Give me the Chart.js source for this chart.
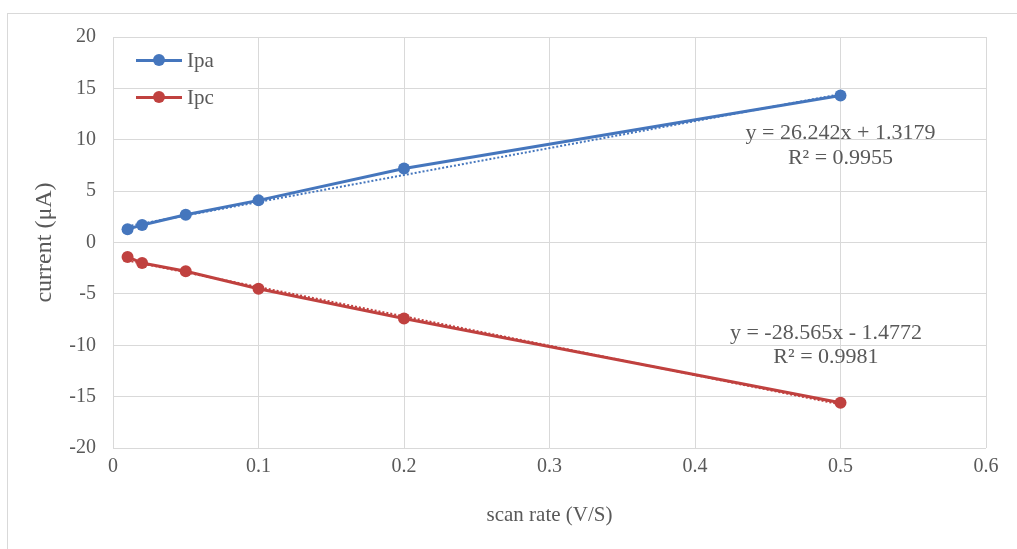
<!DOCTYPE html>
<html>
<head>
<meta charset="utf-8">
<script src="https://cdn.jsdelivr.net/npm/chart.js@4/dist/chart.umd.min.js"></script>
<style>
  html, body { margin: 0; padding: 0; background: #fff; }
  #wrap { position: relative; width: 1017px; height: 549px; overflow: hidden; }
  #frame { position: absolute; left: 7px; top: 13px; width: 1100px; height: 600px; border: 1px solid #d9d9d9; }
  canvas { position: absolute; left: 0; top: 0; }
  .leg { position: absolute; left: 136px; height: 24px; font: 21px "Liberation Serif", serif; color: #595959; }
  .leg .ln { position: absolute; left: 0; top: 11px; width: 46px; height: 3px; }
  .leg .dot { position: absolute; left: 17px; top: 6px; width: 12px; height: 12px; border-radius: 50%; }
  .leg .tx { position: absolute; left: 51px; top: 0; line-height: 24px; white-space: nowrap; }
</style>
</head>
<body>
<div id="wrap">
  <div id="frame"></div>
  <canvas id="chart" width="1017" height="549"></canvas>
  <div id="legend"></div>
</div>
<script>
// datos
const scanRate = [0.01, 0.02, 0.05, 0.1, 0.2, 0.5];
const ipa = [1.3, 1.7, 2.7, 4.1, 7.2, 14.3];
const ipc = [-1.4, -2.0, -2.8, -4.5, -7.4, -15.6];

// líneas de tendencia (extremos)
const trendX = [0.01, 0.5];
const ipaTrend = [1.58, 14.44];
const ipcTrend = [-1.76, -15.76];

const seriesNames = ['Ipa', 'Ipc'];
const colors = ['#4576BD', '#C0413F'];
const eqTexts = [
  ['y = 26.242x + 1.3179', 'R² = 0.9955'],
  ['y = -28.565x - 1.4772', 'R² = 0.9981'],
];
const eqPos = [[0.5, 10.6, 8.2], [0.49, -8.85, -11.2]];

const xTicks = [0, 0.1, 0.2, 0.3, 0.4, 0.5, 0.6];
const yTicks = [-20, -15, -10, -5, 0, 5, 10, 15, 20];

const font = '"Liberation Serif", serif';
const textColor = '#595959';

const pts = (xs, ys) => xs.map((x, i) => ({ x, y: ys[i] }));

// leyenda en html
const legend = document.getElementById('legend');
seriesNames.forEach((name, i) => {
  const d = document.createElement('div');
  d.className = 'leg';
  d.style.top = (48 + i * 37) + 'px';
  d.innerHTML = `<span class="ln" style="background:${colors[i]}"></span><span class="dot" style="background:${colors[i]}"></span><span class="tx">${name}</span>`;
  legend.appendChild(d);
});

// etiquetas de ecuación
const eqLabels = {
  id: 'eqLabels',
  afterDatasetsDraw(chart) {
    const { ctx, scales } = chart;
    ctx.save();
    ctx.font = '22px ' + font;
    ctx.fillStyle = textColor;
    ctx.textAlign = 'center';
    ctx.textBaseline = 'middle';
    eqPos.forEach((p, i) => {
      const x = scales.x.getPixelForValue(p[0]);
      ctx.fillText(eqTexts[i][0], x, scales.y.getPixelForValue(p[1]));
      ctx.fillText(eqTexts[i][1], x, scales.y.getPixelForValue(p[2]));
    });
    ctx.restore();
  }
};

const ctx = document.getElementById('chart').getContext('2d');
new Chart(ctx, {
  type: 'scatter',
  data: {
    datasets: [
      {
        label: 'Ipa trend',
        data: pts(trendX, ipaTrend),
        showLine: true,
        borderColor: colors[0],
        borderWidth: 2,
        borderDash: [2, 2],
        pointRadius: 0,
      },
      {
        label: 'Ipc trend',
        data: pts(trendX, ipcTrend),
        showLine: true,
        borderColor: colors[1],
        borderWidth: 2,
        borderDash: [2, 2],
        pointRadius: 0,
      },
      {
        label: seriesNames[0],
        data: pts(scanRate, ipa),
        showLine: true,
        borderColor: colors[0],
        backgroundColor: colors[0],
        borderWidth: 3,
        pointRadius: 6,
        pointBorderWidth: 0,
      },
      {
        label: seriesNames[1],
        data: pts(scanRate, ipc),
        showLine: true,
        borderColor: colors[1],
        backgroundColor: colors[1],
        borderWidth: 3,
        pointRadius: 6,
        pointBorderWidth: 0,
      },
    ],
  },
  options: {
    responsive: false,
    animation: false,
    layout: { padding: { top: 37, right: 31, bottom: 0, left: 0 } },
    plugins: { legend: { display: false }, tooltip: { enabled: false } },
    scales: {
      x: {
        type: 'linear',
        min: 0,
        max: 0.6,
        afterBuildTicks: s => { s.ticks = xTicks.map(v => ({ value: v })); },
        afterFit: s => { s.height = 101; },
        grid: { color: '#d9d9d9', drawTicks: false },
        border: { display: false },
        ticks: { color: textColor, font: { family: font, size: 20 }, padding: 7, callback: v => String(v) },
        title: { display: true, text: 'scan rate (V/S)', color: textColor, font: { family: font, size: 21 }, padding: { top: 0, bottom: 21 } },
      },
      y: {
        type: 'linear',
        min: -20,
        max: 20,
        afterBuildTicks: s => { s.ticks = yTicks.map(v => ({ value: v })); },
        afterFit: s => { s.width = 113; },
        grid: { color: '#d9d9d9', drawTicks: false },
        border: { display: false },
        ticks: { color: textColor, font: { family: font, size: 20 }, padding: 17 },
        title: { display: true, text: 'current (μA)', color: textColor, font: { family: font, size: 24 }, padding: { top: 30, bottom: 0 } },
      },
    },
  },
  plugins: [eqLabels],
});
</script>
</body>
</html>
